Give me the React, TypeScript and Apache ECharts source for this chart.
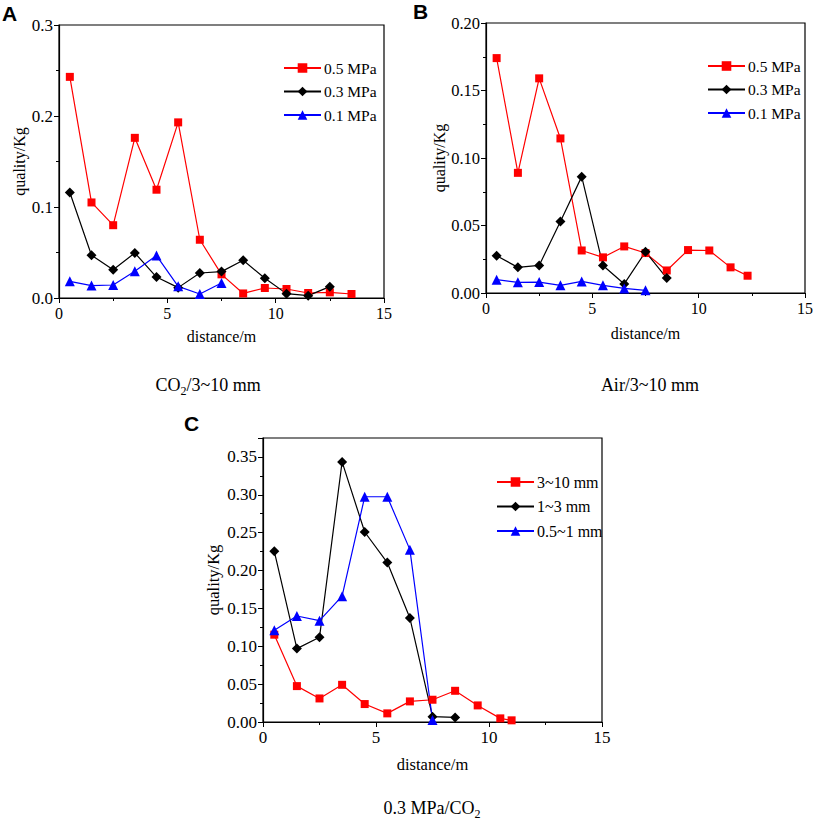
import React, { useEffect, useRef } from "react";
import * as echarts from "echarts";

// ---------- Data ----------
// Panel A: CO2 / 3~10 mm
const distA05 = [0.5, 1.5, 2.5, 3.5, 4.5, 5.5, 6.5, 7.5, 8.5, 9.5, 10.5, 11.5, 12.5, 13.5];
const valA05 = [0.243, 0.105, 0.08, 0.176, 0.119, 0.193, 0.064, 0.026, 0.005, 0.011, 0.0099, 0.0055, 0.0062, 0.0044];
const distA03 = [0.5, 1.5, 2.5, 3.5, 4.5, 5.5, 6.5, 7.5, 8.5, 9.5, 10.5, 11.5, 12.5];
const valA03 = [0.116, 0.047, 0.031, 0.0495, 0.023, 0.0114, 0.0275, 0.029, 0.0415, 0.0217, 0.0048, 0.0026, 0.0125];
const distA01 = [0.5, 1.5, 2.5, 3.5, 4.5, 5.5, 6.5, 7.5];
const valA01 = [0.0183, 0.0136, 0.0143, 0.0294, 0.0466, 0.0128, 0.0044, 0.0165];

// Panel B: Air / 3~10 mm
const distB05 = [0.5, 1.5, 2.5, 3.5, 4.5, 5.5, 6.5, 7.5, 8.5, 9.5, 10.5, 11.5, 12.3];
const valB05 = [0.174, 0.089, 0.159, 0.1145, 0.0315, 0.0264, 0.0345, 0.0296, 0.0167, 0.0318, 0.0315, 0.019, 0.0128];
const distB03 = [0.5, 1.5, 2.5, 3.5, 4.5, 5.5, 6.5, 7.5, 8.5];
const valB03 = [0.0276, 0.019, 0.0204, 0.053, 0.0862, 0.0204, 0.0067, 0.0305, 0.0111];
const distB01 = [0.5, 1.5, 2.5, 3.5, 4.5, 5.5, 6.5, 7.5];
const valB01 = [0.0099, 0.0079, 0.0081, 0.0057, 0.0086, 0.0057, 0.0034, 0.002];

// Panel C: 0.3 MPa / CO2
const distC310 = [0.5, 1.5, 2.5, 3.5, 4.5, 5.5, 6.5, 7.5, 8.5, 9.5, 10.5, 11.0];
const valC310 = [0.1153, 0.0474, 0.0311, 0.0491, 0.0237, 0.0114, 0.0272, 0.0294, 0.0412, 0.0219, 0.0048, 0.0022];
const distC13 = [0.5, 1.5, 2.5, 3.5, 4.5, 5.5, 6.5, 7.5, 8.5];
const valC13 = [0.2254, 0.0969, 0.1118, 0.3434, 0.2509, 0.2105, 0.1373, 0.007, 0.0061];
const distC051 = [0.5, 1.5, 2.5, 3.5, 4.5, 5.5, 6.5, 7.5];
const valC051 = [0.121, 0.14, 0.1338, 0.1662, 0.2974, 0.2974, 0.2276, 0.0026];

const legendAB = ["0.5 MPa", "0.3 MPa", "0.1 MPa"];
const legendC = ["3~10 mm", "1~3 mm", "0.5~1 mm"];
const xTitle = "distance/m";
const yTitle = "quality/Kg";

const SERIF = "'Liberation Serif', 'Times New Roman', serif";
const SANS = "'Liberation Sans', Arial, sans-serif";

function lineSeries(name: string, xs: number[], ys: number[], color: string, symbol: string, size: number, idx: number) {
  return {
    type: "line",
    name,
    xAxisIndex: idx,
    yAxisIndex: idx,
    data: xs.map((x, i) => [x, ys[i]]),
    symbol,
    symbolSize: size,
    showAllSymbol: true,
    lineStyle: { color, width: 1.2 },
    itemStyle: { color, borderWidth: 0 },
    emphasis: { disabled: true },
    z: 3,
  };
}

function xAxisCfg(idx: number, fs: number, nfs: number, gap: number) {
  return {
    type: "value",
    gridIndex: idx,
    min: 0,
    max: 15,
    interval: 5,
    name: xTitle,
    nameLocation: "middle",
    nameGap: gap,
    nameTextStyle: { fontFamily: SERIF, fontSize: nfs, color: "#000" },
    axisLine: { show: true, lineStyle: { color: "#000", width: 1.2 } },
    axisTick: { show: true, inside: false, length: 5, lineStyle: { color: "#000" } },
    minorTick: { show: true, splitNumber: 2, length: 3, lineStyle: { color: "#000" } },
    splitLine: { show: false },
    axisLabel: { fontFamily: SERIF, fontSize: fs, color: "#000", margin: 7 },
  };
}

function yAxisCfg(idx: number, max: number, interval: number, digits: number, fs: number, nfs: number, gap: number) {
  return {
    type: "value",
    gridIndex: idx,
    min: 0,
    max,
    interval,
    name: yTitle,
    nameLocation: "middle",
    nameGap: gap,
    nameRotate: 90,
    nameTextStyle: { fontFamily: SERIF, fontSize: nfs, color: "#000" },
    axisLine: { show: true, lineStyle: { color: "#000", width: 1.2 } },
    axisTick: { show: true, inside: false, length: 5, lineStyle: { color: "#000" } },
    minorTick: { show: true, splitNumber: 2, length: 3, lineStyle: { color: "#000" } },
    splitLine: { show: false },
    axisLabel: {
      fontFamily: SERIF,
      fontSize: fs,
      color: "#000",
      margin: 6,
      formatter: (v: number) => {
        const r = Math.round(v / interval);
        if (Math.abs(r * interval - v) > 1e-6) return "";
        return v.toFixed(digits);
      },
    },
  };
}

function legendCfg(data: string[], left: number, top: number, fs: number, gap: number) {
  return {
    data,
    orient: "vertical",
    left,
    top,
    itemWidth: 37,
    itemHeight: 12,
    itemGap: gap,
    selectedMode: false,
    textStyle: { fontFamily: SERIF, fontSize: fs, color: "#000", padding: [0, 0, 0, -2] },
  };
}

function caption(parts: { t: string; sub?: boolean }[], cx: number, cy: number) {
  const text = parts.map((p) => `{${p.sub ? "s" : "n"}|${p.t}}`).join("");
  return {
    type: "text",
    x: cx,
    y: cy,
    style: {
      text,
      align: "center",
      verticalAlign: "middle",
      rich: {
        n: { fontFamily: SERIF, fontSize: 18, color: "#000", lineHeight: 24, verticalAlign: "middle" },
        s: { fontFamily: SERIF, fontSize: 12, color: "#000", lineHeight: 13, verticalAlign: "bottom" },
      },
    },
  };
}

function panelLetter(t: string, x: number, y: number) {
  return {
    type: "text",
    x,
    y,
    style: { text: t, fontFamily: SANS, fontWeight: "bold", fontSize: 21, fill: "#000" },
  };
}

export default function App() {
  const ref = useRef<HTMLDivElement>(null);
  useEffect(() => {
    document.body.style.margin = "0";
    const chart = echarts.init(ref.current!, undefined, { renderer: "svg" });
    const gridStyle = { show: true, borderColor: "#000", borderWidth: 1.2, containLabel: false };
    chart.setOption({
      animation: false,
      backgroundColor: "#fff",
      grid: [
        { ...gridStyle, left: 59, top: 25, width: 325, height: 273 },
        { ...gridStyle, left: 486, top: 23, width: 322, height: 270 },
        { ...gridStyle, left: 263, top: 438, width: 339, height: 284 },
      ],
      xAxis: [xAxisCfg(0, 16, 16, 30), xAxisCfg(1, 16, 16, 32), xAxisCfg(2, 17, 16.5, 34)],
      yAxis: [
        yAxisCfg(0, 0.3, 0.1, 1, 17, 16, 29),
        yAxisCfg(1, 0.2, 0.05, 2, 16.5, 16, 37),
        yAxisCfg(2, 0.375, 0.05, 2, 17, 16.5, 41),
      ],
      legend: [
        legendCfg(legendAB, 278, 55, 15.5, 7.5),
        legendCfg(legendAB, 702, 53, 15.5, 7.5),
        legendCfg(legendC, 491, 469, 16, 8.5),
      ],
      series: [
        lineSeries(legendAB[0], distA05, valA05, "#ff0000", "rect", 8, 0),
        lineSeries(legendAB[1], distA03, valA03, "#000000", "diamond", 10, 0),
        lineSeries(legendAB[2], distA01, valA01, "#0000ff", "triangle", 10, 0),
        lineSeries(legendAB[0], distB05, valB05, "#ff0000", "rect", 8, 1),
        lineSeries(legendAB[1], distB03, valB03, "#000000", "diamond", 10, 1),
        lineSeries(legendAB[2], distB01, valB01, "#0000ff", "triangle", 10, 1),
        lineSeries(legendC[0], distC310, valC310, "#ff0000", "rect", 8, 2),
        lineSeries(legendC[1], distC13, valC13, "#000000", "diamond", 10, 2),
        lineSeries(legendC[2], distC051, valC051, "#0000ff", "triangle", 10, 2),
      ],
      graphic: [
        panelLetter("A", 2, 3),
        panelLetter("B", 413, 1),
        panelLetter("C", 184, 413),
        caption([{ t: "CO" }, { t: "2", sub: true }, { t: "/3~10 mm" }], 208, 385),
        caption([{ t: "Air/3~10 mm" }], 650, 385),
        caption([{ t: "0.3 MPa/CO" }, { t: "2", sub: true }], 432, 808),
      ],
    });
    return () => chart.dispose();
  }, []);
  return <div ref={ref} style={{ width: 816, height: 824 }} />;
}
